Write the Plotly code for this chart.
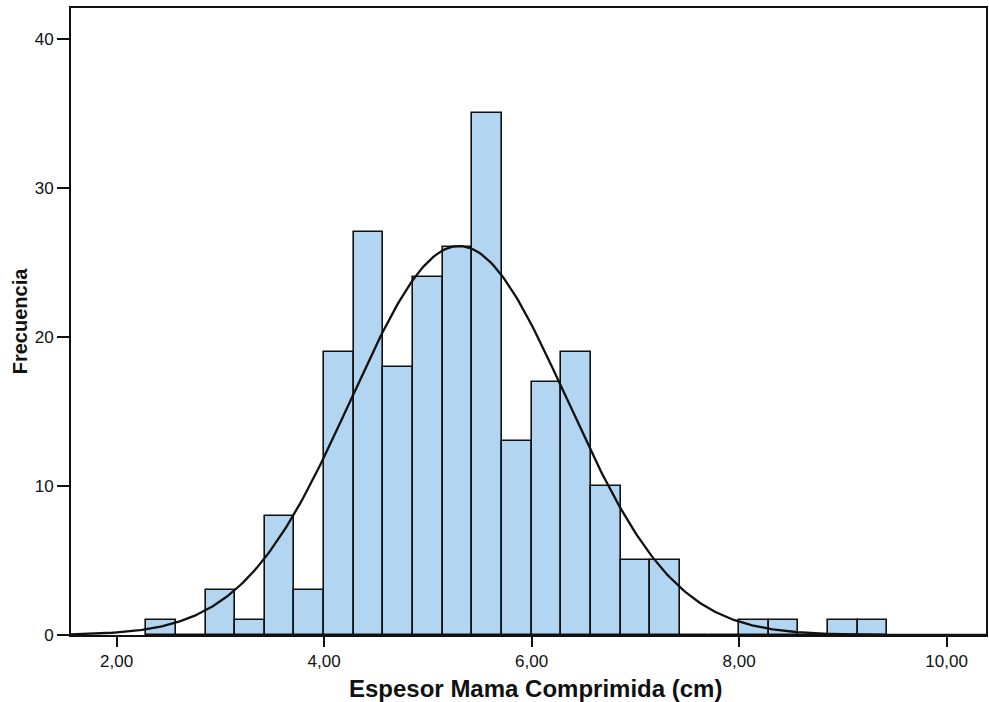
import math
import plotly.graph_objects as go

# Histogram of compressed breast thickness (cm), bin width 2/7 cm
bin_width = 2 / 7
first_edge = 4 - 6 * bin_width
counts = [1, 0, 3, 1, 8, 3, 19, 27, 18, 24, 26, 35, 13, 17, 19, 10, 5, 5, 0, 0, 1, 1, 0, 1, 1]

# Fitted normal curve parameters
curve_mean = 5.30
curve_sd = 1.04

x_tickvals = [2, 4, 6, 8, 10]
x_ticktext = ["2,00", "4,00", "6,00", "8,00", "10,00"]
y_tickvals = [0, 10, 20, 30, 40]

x_range = [1.56, 10.38]
y_range = [0, 42.05]

centers = [first_edge + (i + 0.5) * bin_width for i in range(len(counts))]
n_total = sum(counts)

fig = go.Figure()
fig.add_trace(go.Bar(
    x=centers, y=counts, width=bin_width,
    marker=dict(color="#b2d6f1", line=dict(color="#111111", width=1.6)),
    hoverinfo="x+y",
))

# Normal density scaled to counts
n_pts = 400
xs = [x_range[0] + (x_range[1] - x_range[0]) * i / (n_pts - 1) for i in range(n_pts)]
ys = [n_total * bin_width / (curve_sd * math.sqrt(2 * math.pi))
      * math.exp(-((x - curve_mean) ** 2) / (2 * curve_sd ** 2)) for x in xs]
fig.add_trace(go.Scatter(x=xs, y=ys, mode="lines",
                         line=dict(color="#111111", width=2.3), hoverinfo="skip"))

fig.update_layout(
    width=989, height=702,
    margin=dict(l=71, r=1, t=8, b=67),
    paper_bgcolor="white", plot_bgcolor="white",
    showlegend=False, bargap=0,
    font=dict(family="Liberation Sans, Arial, sans-serif", color="#111111"),
    xaxis=dict(
        range=x_range, tickvals=x_tickvals, ticktext=x_ticktext,
        ticks="outside", ticklen=10, tickwidth=2, tickcolor="#111111",
        tickfont=dict(size=17), showgrid=False, zeroline=False,
        showline=True, linecolor="#111111", linewidth=2, mirror=True,
    ),
    yaxis=dict(
        range=y_range, tickvals=y_tickvals,
        ticks="outside", ticklen=12, tickwidth=2, tickcolor="#111111",
        tickfont=dict(size=17), showgrid=False, zeroline=False,
        showline=True, linecolor="#111111", linewidth=2, mirror=True,
    ),
    annotations=[
        dict(text="<b>Espesor Mama Comprimida (cm)</b>", xref="paper", yref="paper",
             x=0.508, y=-0.085, yanchor="middle", xanchor="center",
             showarrow=False, font=dict(size=24)),
        dict(text="<b>Frecuencia</b>", xref="paper", yref="paper",
             x=-0.056, xanchor="center", y=0.5, yanchor="middle", textangle=-90,
             showarrow=False, font=dict(size=20)),
    ],
)

fig.write_html("out.html")
